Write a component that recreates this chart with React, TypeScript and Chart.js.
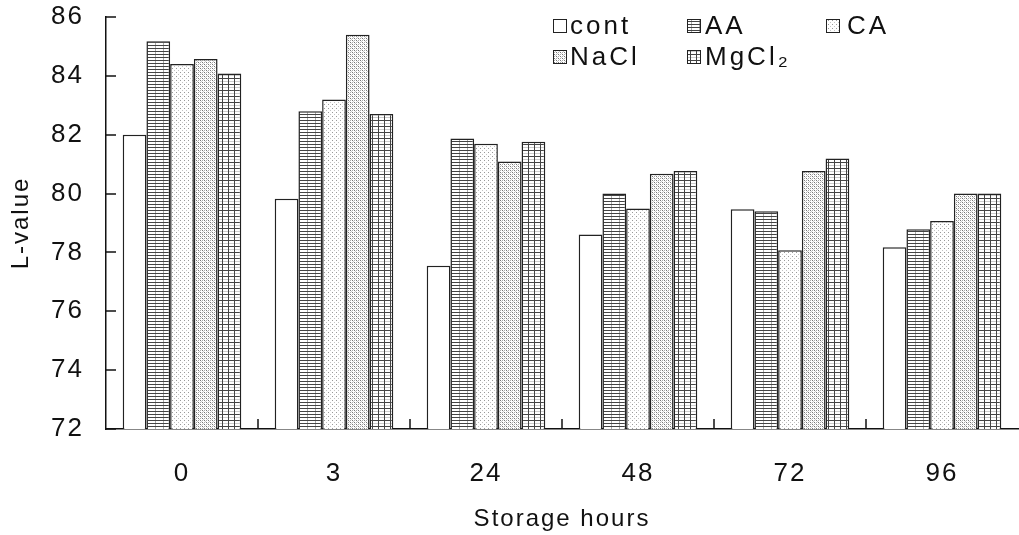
import React, { useEffect, useRef } from "react";
import { Chart, registerables } from "chart.js";

Chart.register(...registerables);

const categories = ["0", "3", "24", "48", "72", "96"];
const seriesNames = ["cont", "AA", "CA", "NaCl", "MgCl₂"];
const contValues = [82.0, 79.82, 77.55, 78.61, 79.47, 78.18];
const aaValues = [85.18, 82.8, 81.87, 80.0, 79.4, 78.79];
const caValues = [84.4, 83.2, 81.69, 79.49, 78.07, 79.07];
const naclValues = [84.57, 85.4, 81.09, 80.67, 80.77, 80.0];
const mgcl2Values = [84.08, 82.7, 81.76, 80.77, 81.19, 80.0];
const yTicks = [72, 74, 76, 78, 80, 82, 84, 86];

const FONT = "'Liberation Sans', Arial, sans-serif";

function makePattern(kind: string): CanvasPattern | string {
  const c = document.createElement("canvas");
  const ctx = c.getContext("2d")!;
  if (kind === "cont") return "#ffffff";
  if (kind === "AA") {
    c.width = 8; c.height = 3;
    ctx.fillStyle = "#fff"; ctx.fillRect(0, 0, 8, 3);
    ctx.fillStyle = "#444"; ctx.fillRect(0, 0, 8, 1);
    ctx.fillStyle = "#aaa"; ctx.fillRect(3, 1, 1, 2);
  } else if (kind === "CA") {
    c.width = 4; c.height = 4;
    ctx.fillStyle = "#fff"; ctx.fillRect(0, 0, 4, 4);
    ctx.fillStyle = "#999"; ctx.fillRect(0, 0, 1, 1);
    ctx.fillStyle = "#c4c4c4"; ctx.fillRect(2, 2, 1, 1);
  } else if (kind === "NaCl") {
    c.width = 4; c.height = 4;
    ctx.fillStyle = "#fff"; ctx.fillRect(0, 0, 4, 4);
    ctx.fillStyle = "#777"; ctx.fillRect(0, 0, 1, 1); ctx.fillRect(2, 2, 1, 1);
    ctx.fillStyle = "#aaa"; ctx.fillRect(2, 0, 1, 1); ctx.fillRect(0, 2, 1, 1);
    ctx.fillStyle = "#ccc"; ctx.fillRect(1, 1, 1, 1); ctx.fillRect(3, 3, 1, 1);
  } else {
    c.width = 6; c.height = 6;
    ctx.fillStyle = "#fff"; ctx.fillRect(0, 0, 6, 6);
    ctx.fillStyle = "#444"; ctx.fillRect(0, 0, 6, 1); ctx.fillRect(0, 0, 1, 6);
    ctx.fillStyle = "#ccc"; ctx.fillRect(1, 3, 5, 1);
  }
  return ctx.createPattern(c, "repeat")!;
}

export default function App() {
  const ref = useRef<HTMLCanvasElement>(null);
  useEffect(() => {
    if (!ref.current) return;
    const kinds = ["cont", "AA", "CA", "NaCl", "MgCl2"];
    const fills = kinds.map(makePattern);
    const values = [contValues, aaValues, caValues, naclValues, mgcl2Values];

    const customPlugin = {
      id: "custom",
      beforeDraw(chart: any) {
        chart.ctx.letterSpacing = "2px";
      },
      afterDraw(chart: any) {
        const ctx = chart.ctx;
        const { left, right, top, bottom } = chart.chartArea;
        const xs = chart.scales.x;
        const ys = chart.scales.y;
        ctx.save();
        ctx.strokeStyle = "#111";
        ctx.lineWidth = 1.5;
        yTicks.forEach((v) => {
          const py = Math.round(ys.getPixelForValue(v));
          ctx.beginPath();
          ctx.moveTo(left, py);
          ctx.lineTo(left + 10, py);
          ctx.stroke();
        });
        for (let i = 0; i < categories.length - 1; i++) {
          const px = Math.round((xs.getPixelForValue(i) + xs.getPixelForValue(i + 1)) / 2);
          ctx.beginPath();
          ctx.moveTo(px, bottom);
          ctx.lineTo(px, bottom - 10);
          ctx.stroke();
        }
        ctx.fillStyle = "#111";
        ctx.font = `24px ${FONT}`;
        ctx.letterSpacing = "2px";
        ctx.textAlign = "center";
        ctx.textBaseline = "middle";
        ctx.fillText("Storage hours", (left + right) / 2, 519);
        ctx.save();
        ctx.translate(21, (top + bottom) / 2);
        ctx.rotate(-Math.PI / 2);
        ctx.fillText("L-value", 0, 0);
        ctx.restore();
        const entries = [
          { i: 0, bx: 553, by: 19, tx: 570, ty: 27 },
          { i: 1, bx: 687, by: 19, tx: 705, ty: 27 },
          { i: 2, bx: 826, by: 19, tx: 847, ty: 27 },
          { i: 3, bx: 553, by: 50, tx: 570, ty: 58 },
          { i: 4, bx: 687, by: 50, tx: 705, ty: 58 },
        ];
        ctx.font = `26px ${FONT}`;
        ctx.letterSpacing = "3px";
        ctx.textAlign = "left";
        entries.forEach((e) => {
          ctx.fillStyle = fills[e.i] as any;
          ctx.fillRect(e.bx, e.by, 14, 14);
          ctx.lineWidth = 1;
          ctx.strokeStyle = "#222";
          ctx.strokeRect(e.bx + 0.5, e.by + 0.5, 13, 13);
          ctx.fillStyle = "#111";
          ctx.fillText(seriesNames[e.i], e.tx, e.ty);
        });
        ctx.restore();
      },
    };

    const chart = new Chart(ref.current, {
      type: "bar",
      data: {
        labels: categories,
        datasets: values.map((vals, i) => ({
          label: seriesNames[i],
          data: vals,
          backgroundColor: fills[i] as any,
          borderColor: "#222",
          borderWidth: 1.5,
          barPercentage: 1,
          categoryPercentage: 0.78,
        })),
      },
      options: {
        animation: false,
        responsive: false,
        maintainAspectRatio: false,
        layout: { padding: { left: 0, right: 1, top: 17, bottom: 0 } },
        plugins: { legend: { display: false }, tooltip: { enabled: false } },
        scales: {
          x: {
            afterFit: (s: any) => { s.height = 106; s.paddingLeft = 0; s.paddingRight = 0; },
            grid: { display: false, drawTicks: false },
            border: { display: true, color: "#111", width: 1.5 },
            ticks: { padding: 29, color: "#111", font: { size: 26, family: FONT } },
          },
          y: {
            min: 72,
            max: 86,
            afterFit: (s: any) => { s.width = 106; s.paddingTop = 0; s.paddingBottom = 0; },
            afterBuildTicks: (s: any) => { s.ticks = yTicks.map((v) => ({ value: v })); },
            grid: { drawOnChartArea: false, drawTicks: false },
            border: { display: true, color: "#111", width: 1.5 },
            ticks: { padding: 22, color: "#111", font: { size: 26, family: FONT, lineHeight: 0.1 } },
          },
        },
      },
      plugins: [customPlugin],
    });
    return () => chart.destroy();
  }, []);
  return (
    <div style={{ position: "fixed", left: 0, top: 0, width: 1019, height: 535, background: "#fff" }}>
      <canvas ref={ref} width={1019} height={535} style={{ width: 1019, height: 535 }} />
    </div>
  );
}
